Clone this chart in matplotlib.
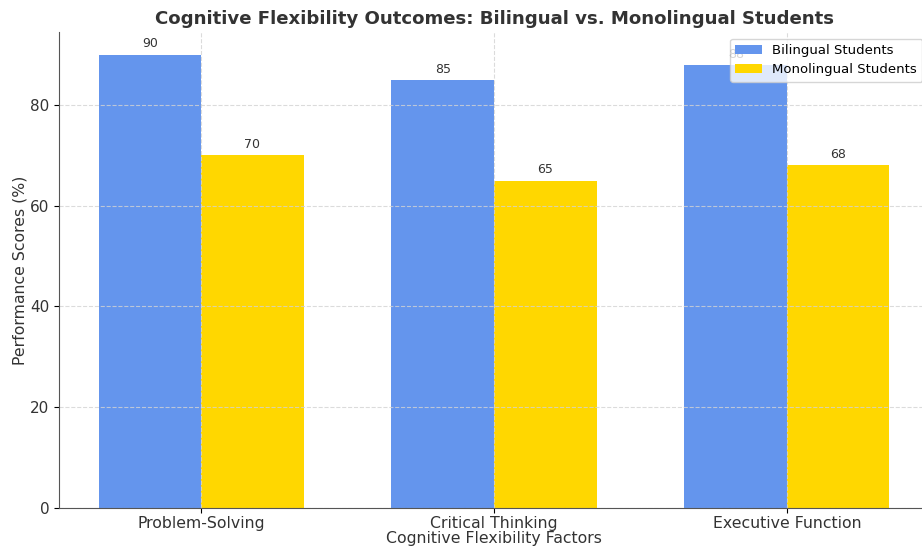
import matplotlib.pyplot as plt
import numpy as np

factors = ["Problem-Solving", "Critical Thinking", "Executive Function"]
bilingual = [90, 85, 88]
monolingual = [70, 65, 68]

x = np.arange(len(factors))
width = 0.35

fig = plt.figure(figsize=(9.22, 5.5), dpi=100)
ax = fig.add_axes([0.064, 0.0764, 0.9436, 0.8655])

b1 = ax.bar(x - width/2, bilingual, width, label="Bilingual Students", color="#6495ED")
b2 = ax.bar(x + width/2, monolingual, width, label="Monolingual Students", color="#FFD700")

ax.bar_label(b1, padding=3, fontsize=9, color="#333333")
ax.bar_label(b2, padding=3, fontsize=9, color="#333333")

ax.set_xticks(x)
ax.set_xticklabels(factors, fontsize=11.3, color="#333333")
ax.tick_params(axis="x", pad=2)
ax.tick_params(axis="y", labelsize=11, labelcolor="#333333")
ax.set_xlabel("Cognitive Flexibility Factors", fontsize=11.3, color="#333333", labelpad=0)
ax.set_ylabel("Performance Scores (%)", fontsize=11.3, color="#333333", labelpad=2)
ax.set_title("Cognitive Flexibility Outcomes: Bilingual vs. Monolingual Students",
             fontsize=13.1, fontweight="bold", color="#333333", pad=6)

ax.grid(True, linestyle="--", color="lightgray", alpha=0.8)
ax.spines["top"].set_visible(False)
ax.spines["right"].set_visible(False)
for s in ["left", "bottom"]:
    ax.spines[s].set_color("#555555")

ax.legend(loc="upper right", fontsize=9.5)

plt.savefig("out.png", dpi=100)
